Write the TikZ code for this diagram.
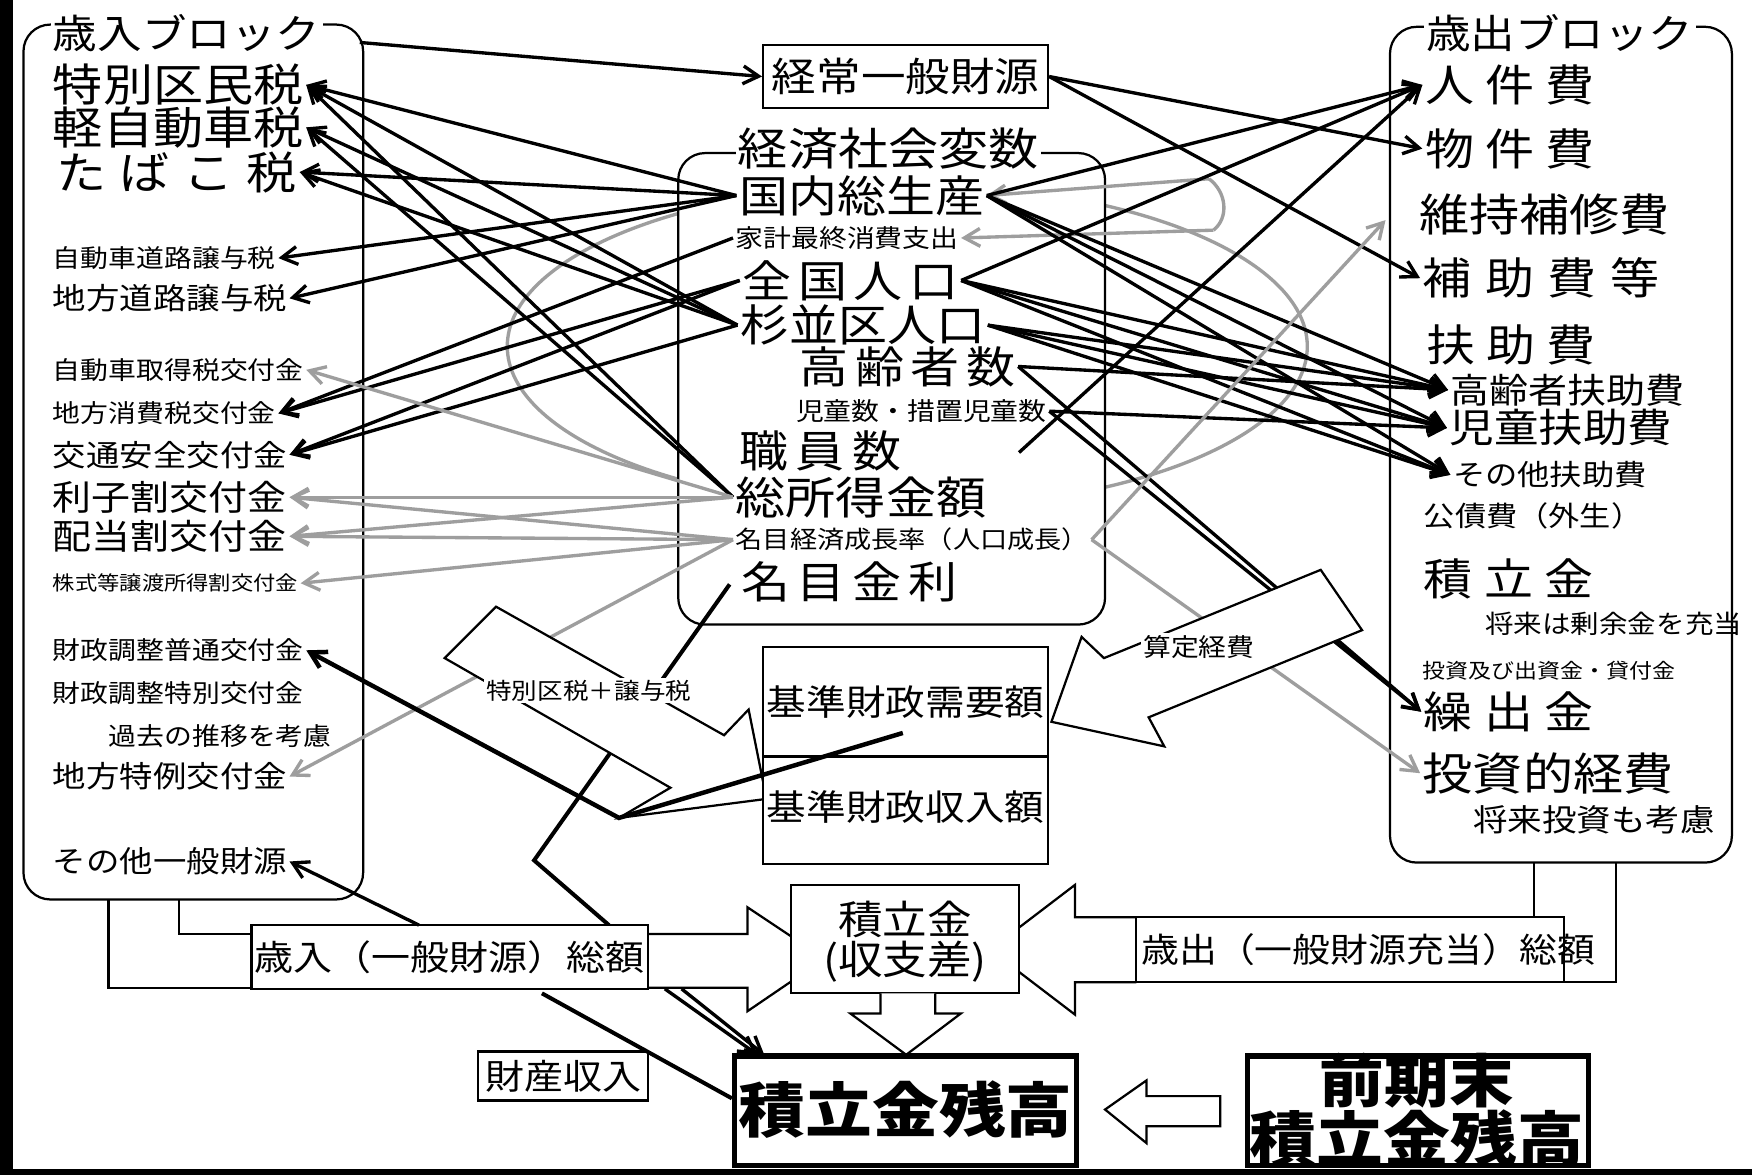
\documentclass[tikz,border=0pt]{standalone}
\usepackage{fontspec}
\setmainfont{Noto Sans CJK JP}[FakeStretch=1.12]
\usetikzlibrary{arrows.meta}
\newcommand\fz[1]{\fontsize{\fpeval{0.89*#1}pt}{\fpeval{0.89*#1}pt}\selectfont}
\begin{document}
\begin{tikzpicture}[x=0.5pt,y=-0.5pt,
  lbl/.style={anchor=west,inner sep=1pt},
  ttl/.style={anchor=west,inner sep=1pt,fill=white},
  frm/.style={draw,line width=1pt,rounded corners=12pt},
  bx/.style={draw,line width=1pt,fill=white},
  blk/.style={line width=1.5pt,-{Straight Barb[length=7pt,width=8pt]}},
  gry/.style={line width=1.5pt,draw=black!38,-{Straight Barb[length=7pt,width=8pt]}},
  ln/.style={line width=1.8pt},
  barrow/.style={draw,fill=white,line width=1pt,line join=miter}
]
\useasboundingbox (0,0) rectangle (1568,1052);
\fill[white] (0,0) rectangle (1568,1052);
\fill[black] (0,0) rectangle (12,1052);
\fill[black] (0,1046) rectangle (1568,1052);

% gray ellipse (circulation)
\draw[black!38,line width=1.5pt] (812,310) ellipse [x radius=358,y radius=145];

% frames
\draw[frm] (21,22) rectangle (325,805);
\draw[frm,fill=white] (607,137) rectangle (989,559);
\draw[frm] (1244,24) rectangle (1550,772);

% titles
\node[ttl,font=\fz{20}] (tIn) at (45,30) {歳入ブロック};
\node[ttl,font=\fz{20}] (tOut) at (1274,30) {歳出ブロック};
\node[fill=white,inner sep=1pt,font=\fz{22.5}] (tMid) at (795,133) {経済社会変数};

% left items
\node[lbl,font=\fz{22.5}] (L1) at (45,76) {特別区民税};
\node[lbl,font=\fz{22.5}] (L2) at (45,114) {軽自動車税};
\node[lbl,font=\fz{22.5}] (L3) at (48,154) {た\hspace{6pt}ば\hspace{6pt}こ\hspace{6pt}税};
\node[lbl,font=\fz{12.5}] (L4) at (45,231) {自動車道路譲与税};
\node[lbl,font=\fz{15}] (L5) at (45,267) {地方道路譲与税};
\node[lbl,font=\fz{12.5}] (L6) at (45,331) {自動車取得税交付金};
\node[lbl,font=\fz{12.5}] (L7) at (45,370) {地方消費税交付金};
\node[lbl,font=\fz{15}] (L8) at (45,407) {交通安全交付金};
\node[lbl,font=\fz{17.5}] (L9) at (45,445) {利子割交付金};
\node[lbl,font=\fz{17.5}] (L10) at (45,480) {配当割交付金};
\node[lbl,font=\fz{10}] (L11) at (45,522) {株式等譲渡所得割交付金};
\node[lbl,font=\fz{12.5}] (L12) at (45,582) {財政調整普通交付金};
\node[lbl,font=\fz{12.5}] (L13) at (45,620) {財政調整特別交付金};
\node[lbl,font=\fz{12.5}] (L14) at (95,659) {過去の推移を考慮};
\node[lbl,font=\fz{15}] (L15) at (45,695) {地方特例交付金};
\node[lbl,font=\fz{15}] (L16) at (45,771) {その他一般財源};

% center items
\node[lbl,font=\fz{22}] (C1) at (659,175) {国内総生産};
\node[lbl,font=\fz{12.5}] (C2) at (656,213) {家計最終消費支出};
\node[lbl,font=\fz{22}] (C3) at (662,251) {全\hspace{3pt}国\hspace{3pt}人\hspace{3pt}口};
\node[lbl,font=\fz{22}] (C4) at (660,291) {杉並区人口};
\node[lbl,font=\fz{22}] (C5) at (713,328) {高\hspace{3pt}齢\hspace{3pt}者\hspace{3pt}数};
\node[lbl,font=\fz{12.5}] (C6) at (710,368) {児童数・措置児童数};
\node[lbl,font=\fz{22}] (C7) at (659,404) {職\hspace{3.5pt}員\hspace{3.5pt}数};
\node[lbl,font=\fz{22.5}] (C8) at (656,445) {総所得金額};
\node[lbl,font=\fz{12.2}] (C9) at (656,483) {名目経済成長率（人口成長）};
\node[lbl,font=\fz{22}] (C10) at (661,521) {名\hspace{3pt}目\hspace{3pt}金\hspace{3pt}利};
\coordinate (C7r) at (912,405);
\coordinate (C10l) at (653,523);

% right items
\node[lbl,font=\fz{22}] (R1) at (1273,76) {人\hspace{5pt}件\hspace{5pt}費};
\node[lbl,font=\fz{22}] (R2) at (1273,133) {物\hspace{5pt}件\hspace{5pt}費};
\node[lbl,font=\fz{22.5}] (R3) at (1268,192) {維持補修費};
\node[lbl,font=\fz{22}] (R4) at (1271,249) {補\hspace{6pt}助\hspace{6pt}費\hspace{6pt}等};
\node[lbl,font=\fz{22}] (R5) at (1274,309) {扶\hspace{5pt}助\hspace{5pt}費};
\node[lbl,font=\fz{17.5}] (R6) at (1296,349) {高齢者扶助費};
\node[lbl,font=\fz{20}] (R7) at (1295,383) {児童扶助費};
\node[lbl,font=\fz{14.5}] (R8) at (1298,425) {その他扶助費};
\node[lbl,font=\fz{14}] (R9) at (1272,462) {公債費（外生）};
\node[lbl,font=\fz{22}] (R10) at (1272,518) {積\hspace{5pt}立\hspace{5pt}金};
\node[lbl,font=\fz{12.8}] (R11) at (1327,558) {将来は剰余金を充当};
\node[lbl,font=\fz{10.3}] (R12) at (1271,600) {投資及び出資金・貸付金};
\node[lbl,font=\fz{22}] (R13) at (1272,637) {繰\hspace{5pt}出\hspace{5pt}金};
\node[lbl,font=\fz{22.5}] (R14) at (1271,692) {投資的経費};
\node[lbl,font=\fz{15.5}] (R15) at (1316,734) {将来投資も考慮};

% top box
\node[bx,minimum width=127.5pt,minimum height=28.5pt,inner sep=0pt,font=\fz{20}] (KJ) at (810.5,68.5) {経常一般財源};
\coordinate (tInEnd) at (322,38);
\draw[blk] (tInEnd) -- (KJ.west);

% gray arrows into 国内総生産 / 家計最終消費支出 from the right
\coordinate (g1) at (1082,160);
\coordinate (g2) at (1086,206);
\draw[black!38,line width=1.5pt] (g1) .. controls (1098,172) and (1100,195) .. (g2);
\draw[gry] (g1) -- (C1.east);
\draw[gry] (g2) -- (C2.east);

% black arrows to left
\foreach \s/\t in {C1/L1,C4/L1,C8/L1,C4/L2,C8/L2,C1/L3,C4/L3,C1/L4,C1/L5,C2/L7,C3/L7,C3/L8,C4/L8}
  \draw[blk] (\s.west) -- (\t.east);
% gray arrows to left
\foreach \s/\t in {C8/L6,C8/L9,C9/L9,C8/L10,C9/L10,C9/L11,C9/L15}
  \draw[gry] (\s.west) -- (\t.east);

% black arrows to right
\draw[blk] (KJ.east) -- (R2.west);
\draw[blk] (KJ.east) -- (R4.west);
\foreach \s/\t in {C1/R1,C3/R1,C1/R6,C1/R7,C1/R8,C3/R6,C3/R7,C3/R8,C4/R6,C4/R7,C4/R8,C5/R6,C5/R13,C6/R7,C6/R13}
  \draw[blk] (\s.east) -- (\t.west);
\draw[blk] (C7r) -- (R1.west);
% gray arrows to right
\coordinate (R3a) at (1240,197);
\draw[gry] (C9.east) -- (R3a);
\draw[gry] (C9.east) -- (R14.west);

% interest-rate line (hidden partly by block arrow)
\coordinate (bend1) at (478,770);
\coordinate (inTop) at (545,828);
\draw[ln] (C10l) -- (bend1) -- (inTop);

% block arrow: 特別区税＋譲与税
\draw[barrow] (444,543) -- (648,658) -- (670,635) -- (686,715) -- (554,732) -- (600,705) -- (398,589) -- cycle;
\node[fill=white,inner sep=1pt,font=\fz{11.5}] (tkz) at (527,618) {特別区税＋譲与税};

% block arrow: 算定経費
\draw[barrow] (1182,510) -- (988,589) -- (968,570) -- (941,646) -- (1042,668) -- (1028,642) -- (1219,564) -- cycle;
\node[fill=white,inner sep=1pt,font=\fz{12.5}] (stk) at (1073,579) {算定経費};

% 基準財政 box
\draw[bx] (683,579) rectangle (938,773);
\draw[line width=1pt] (683,677) -- (938,677);
\node[font=\fz{17.8},inner sep=0pt] (JY) at (810.5,628) {基準財政需要額};
\node[font=\fz{17.8},inner sep=0pt] (SN) at (810.5,722) {基準財政収入額};
\coordinate (jyIn) at (808,656);
\coordinate (jct) at (554,732);
\draw[blk,line width=2pt] (jyIn) -- (jct) -- (L12.east);

% bottom frame connectors
\draw[line width=1pt] (97,805) -- (97,884) -- (225,884);
\draw[line width=1pt] (160,805) -- (160,836) -- (225,836);
\draw[line width=1pt] (1373,772) -- (1373,821);
\draw[line width=1pt] (1446,772) -- (1446,879) -- (1400,879);

% big arrows to 積立金
\draw[barrow] (580,836) -- (669,836) -- (669,812) -- (738,858) -- (669,905) -- (669,884) -- (580,884);
\draw[barrow] (1017,821) -- (962,821) -- (962,792) -- (886,850) -- (962,908) -- (962,879) -- (1017,879);

\node[bx,minimum width=177.5pt,minimum height=28.5pt,inner sep=0pt,font=\fz{17.5}] (SIN) at (402.5,856.5) {歳入（一般財源）総額};
\node[bx,minimum width=191.5pt,minimum height=29pt,inner sep=0pt] (SOUT) at (1208.5,850) {};
\node[lbl,font=\fz{17}] (SOUTt) at (1019,850) {歳出（一般財源充当）総額};

\node[bx,minimum width=102pt,minimum height=48.5pt,inner sep=0pt] (TM) at (810,840.5) {};
\node[font=\fz{20},inner sep=0pt] (TMa) at (810,823) {積立金};
\node[font=\fz{20},inner sep=0pt] (TMb) at (810,861) {(収支差)};

% down arrow
\draw[barrow] (788,889) -- (788,907) -- (761,907) -- (811,944) -- (860,907) -- (837,907) -- (837,889);

% 積立金残高 boxes
\node[draw,line width=2.5pt,fill=white,minimum width=153pt,minimum height=49pt,inner sep=0pt] (ZD) at (810.5,994) {};
\node[font=\fz{30}\bfseries,inner sep=0pt] (ZDt) at (810.5,993) {積立金残高};
\node[draw,line width=2.5pt,fill=white,minimum width=152.5pt,minimum height=49pt,inner sep=0pt] (ZP) at (1269,994) {};
\node[font=\fz{29}\bfseries,inner sep=0pt] (ZPa) at (1268,967) {前期末};
\node[font=\fz{30}\bfseries,inner sep=0pt] (ZPb) at (1268,1019) {積立金残高};
\draw[barrow] (1092,981) -- (1026,981) -- (1026,967) -- (989,993) -- (1026,1023) -- (1026,1008) -- (1092,1008) -- cycle;

% 財産収入
\node[bx,minimum width=76pt,minimum height=22pt,inner sep=0pt,font=\fz{17.5}] (ZS) at (504,963) {財産収入};

% bottom lines
\draw[ln] (485,889) -- (ZD.west|-0,983);
\draw[blk] (595,885) -- (678,944);
\draw[blk] (610,885) -- (684,944);
\coordinate (sinTop) at (375,828);
\draw[blk] (sinTop) -- (L16.east);
\end{tikzpicture}
\end{document}
